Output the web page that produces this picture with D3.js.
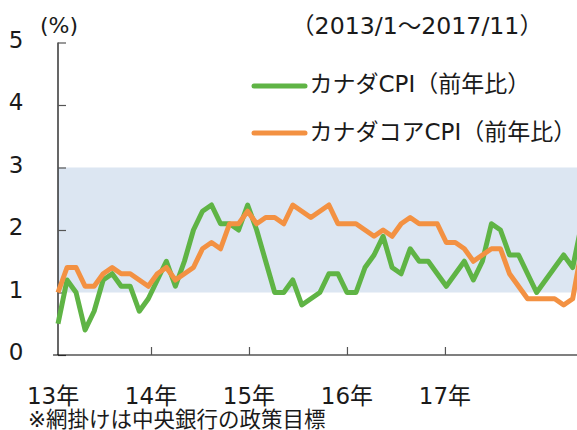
<!DOCTYPE html>
<html>
<head>
<meta charset="utf-8">
<script src="https://cdn.jsdelivr.net/npm/d3@7"></script>
<style>
  html, body { margin: 0; padding: 0; background: #fff; }
  svg { display: block; }
  text { font-family: "DejaVu Sans", "Noto Sans CJK JP", sans-serif; fill: #1a1a1a; }
</style>
</head>
<body>
<svg id="chart" width="577" height="430"></svg>
<script>
// ---- data ----
const cpi = [
  0.5,1.2,1.0,0.4,0.7,1.2,1.3,1.1,1.1,0.7,0.9,1.2,
  1.5,1.1,1.5,2.0,2.3,2.4,2.1,2.1,2.0,2.4,2.0,1.5,
  1.0,1.0,1.2,0.8,0.9,1.0,1.3,1.3,1.0,1.0,1.4,1.6,
  1.9,1.4,1.3,1.7,1.5,1.5,1.3,1.1,1.3,1.5,1.2,1.5,
  2.1,2.0,1.6,1.6,1.3,1.0,1.2,1.4,1.6,1.4,2.1
];
const coreCpi = [
  1.0,1.4,1.4,1.1,1.1,1.3,1.4,1.3,1.3,1.2,1.1,1.3,
  1.4,1.2,1.3,1.4,1.7,1.8,1.7,2.1,2.1,2.3,2.1,2.2,
  2.2,2.1,2.4,2.3,2.2,2.3,2.4,2.1,2.1,2.1,2.0,1.9,
  2.0,1.9,2.1,2.2,2.1,2.1,2.1,1.8,1.8,1.7,1.5,1.6,
  1.7,1.7,1.3,1.1,0.9,0.9,0.9,0.9,0.8,0.9,1.7
];
const yearLabels = ["13年","14年","15年","16年","17年"];
const yearTickPos = [-0.55, 10.3, 21.15, 32.0, 42.85]; // month-index positions of the year ticks
const yTicks = [0,1,2,3,4,5];
const targetBand = [1, 3];
const seriesNames = ["カナダCPI（前年比）", "カナダコアCPI（前年比）"];
const periodLabel = "（2013/1～2017/11）";
const unitLabel = "(%)";
const noteLabel = "※網掛けは中央銀行の政策目標";

// ---- layout ----
const svg = d3.select("#chart");
const green = "#5fb445", orange = "#f39142", band = "#dce6f2";
const x = d3.scaleLinear().domain([0, 58]).range([58, 58 + 58 * 9.03]);
const y = d3.scaleLinear().domain([0, 5]).range([355, 42.5]);

// band
svg.append("rect")
  .attr("x", x(0)).attr("y", y(targetBand[1]))
  .attr("width", 577 - x(0)).attr("height", y(targetBand[0]) - y(targetBand[1]))
  .attr("fill", band);

// y axis
const yAxis = svg.append("g").attr("transform", `translate(${x(0)},0)`)
  .call(d3.axisRight(y).tickValues(yTicks).tickSize(8).tickFormat(""));
yAxis.select(".domain").attr("stroke", "#000").attr("stroke-width", 1.2).attr("d", `M0,${y(5)}V${y(0)}`);
yAxis.selectAll(".tick line").attr("stroke", "#555").attr("stroke-width", 1.2);
svg.append("g").selectAll("text").data(yTicks).join("text")
  .attr("x", 23.5).attr("y", d => y(d) + 5.3)
  .attr("text-anchor", "end").attr("font-size", 23).text(d => d);

// x axis
const xAxis = svg.append("g").attr("transform", `translate(0,${y(0)})`)
  .call(d3.axisTop(x).tickValues(yearTickPos.slice(1)).tickSize(8).tickFormat(""));
xAxis.select(".domain").attr("stroke", "#000").attr("stroke-width", 1.2).attr("d", `M${x(yearTickPos[0])},0H577`);
xAxis.selectAll(".tick line").attr("stroke", "#555").attr("stroke-width", 1.2);
svg.append("g").selectAll("text").data(yearLabels).join("text")
  .attr("x", (d, i) => x(yearTickPos[i])).attr("y", 403.5)
  .attr("text-anchor", "middle").attr("font-size", 23).text(d => d);

// lines
const line = d3.line().x((d, i) => x(i)).y(d => y(d));
svg.append("path").datum(cpi).attr("d", line)
  .attr("fill", "none").attr("stroke", green).attr("stroke-width", 5).attr("stroke-linejoin", "round");
svg.append("path").datum(coreCpi).attr("d", line)
  .attr("fill", "none").attr("stroke", orange).attr("stroke-width", 5).attr("stroke-linejoin", "round");

// texts
svg.append("text").attr("x", 40).attr("y", 33).attr("font-size", 22).text(unitLabel);
svg.append("text").attr("x", 291).attr("y", 34.3).attr("font-size", 23)
  .attr("textLength", 252).attr("lengthAdjust", "spacingAndGlyphs").text(periodLabel);

// legend
const legendY = [86, 133];
const legendTextY = [92, 140];
[green, orange].forEach((c, i) => {
  svg.append("line").attr("x1", 254).attr("x2", 305)
    .attr("y1", legendY[i]).attr("y2", legendY[i])
    .attr("stroke", c).attr("stroke-width", 5).attr("stroke-linecap", "round");
  svg.append("text").attr("x", 309.5).attr("y", legendTextY[i]).attr("font-size", 23).text(seriesNames[i]);
});

// note
svg.append("text").attr("x", 28).attr("y", 426.5).attr("font-size", 21.5).text(noteLabel);
</script>
</body>
</html>
